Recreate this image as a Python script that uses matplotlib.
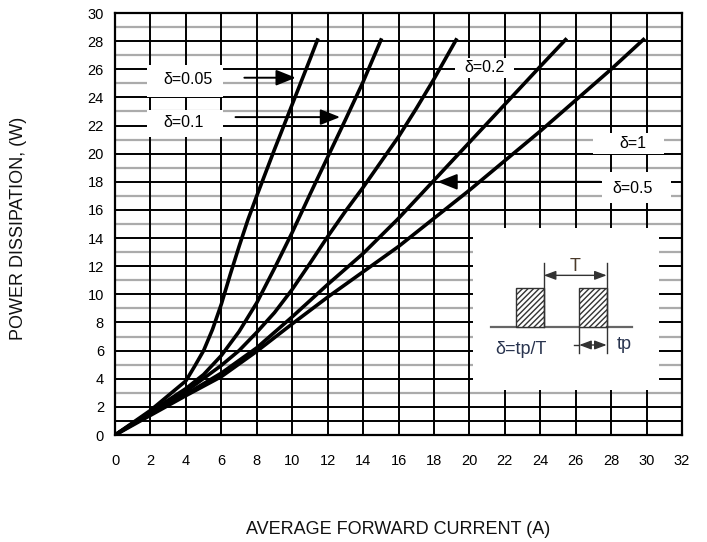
import matplotlib
matplotlib.use("Agg")
import matplotlib.pyplot as plt
from matplotlib.patches import Rectangle

plt.rcParams['font.family'] = ['Liberation Sans', 'DejaVu Sans']

# ---- data ----
x_d005 = [0, 2, 3, 4, 4.5, 5, 5.5, 6, 6.5, 7, 7.5, 8, 9, 10, 11, 11.46]
y_d005 = [0, 1.75, 2.8, 3.85, 4.9, 6.0, 7.5, 9.3, 11.4, 13.4, 15.3, 17.0, 20.3, 23.5, 26.7, 28.2]

x_d01 = [0, 2, 4, 5, 6, 7, 8, 9, 10, 11, 12, 13, 14, 15.05]
y_d01 = [0, 1.65, 3.3, 4.3, 5.65, 7.35, 9.4, 11.85, 14.4, 17.1, 19.75, 22.4, 25.1, 28.2]

x_d02 = [0, 2, 4, 6, 7, 8, 9, 10, 11, 12, 13, 14, 15, 16, 17, 18, 19.3]
y_d02 = [0, 1.6, 3.1, 4.95, 6.0, 7.3, 8.7, 10.35, 12.2, 14.1, 15.9, 17.6, 19.4, 21.2, 23.2, 25.3, 28.2]

x_d05 = [0, 2, 4, 6, 8, 10, 12, 14, 16, 18, 20, 22, 24, 25.5]
y_d05 = [0, 1.5, 2.9, 4.4, 6.2, 8.4, 10.7, 12.9, 15.4, 18.1, 20.8, 23.5, 26.2, 28.2]

x_d1 = [0, 2, 4, 6, 8, 10, 12, 14, 16, 18, 20, 22, 24, 26, 28, 29.9]
y_d1 = [0, 1.4, 2.8, 4.15, 5.95, 7.9, 9.8, 11.6, 13.4, 15.4, 17.4, 19.5, 21.6, 23.8, 26.0, 28.2]

x_ticks = list(range(0, 33, 2))
y_ticks = list(range(0, 31, 2))
black_h = [1] + list(range(2, 31, 2))
gray_h = [3, 5, 7, 9, 11, 13, 15, 17, 19, 21, 23, 25, 27, 29]

series = [(x_d005, y_d005), (x_d01, y_d01), (x_d02, y_d02), (x_d05, y_d05), (x_d1, y_d1)]

fig = plt.figure(figsize=(7.07, 5.42), dpi=100)
ax = fig.add_axes([0.1627, 0.1974, 0.8019, 0.7786])
ax.set_xlim(0, 32)
ax.set_ylim(0, 30)

# grid
for yv in gray_h:
    ax.axhline(yv, color='#ababab', lw=1.6, zorder=1)
for yv in black_h:
    ax.axhline(yv, color='black', lw=1.4, zorder=1.2)
for xv in x_ticks:
    ax.axvline(xv, color='black', lw=1.4, zorder=1.2)

# white boxes (labels + inset)
boxes = [
    (1.8, 24.05, 4.3, 2.25),   # d=0.05
    (1.8, 21.2, 4.3, 1.9),     # d=0.1
    (19.2, 25.4, 3.3, 1.4),    # d=0.2
    (27.0, 20.0, 4.0, 1.5),    # d=1
    (27.5, 16.5, 3.9, 2.2),    # d=0.5
    (20.2, 3.2, 10.5, 11.5),   # inset
]
for (bx, by, bw, bh) in boxes:
    ax.add_patch(Rectangle((bx, by), bw, bh, facecolor='white', edgecolor='none', zorder=2))

# curves
for xs, ys in series:
    ax.plot(xs, ys, color='black', lw=2.6, solid_capstyle='butt', solid_joinstyle='round', zorder=4)

# labels
tkw = dict(fontsize=11.5, ha='center', va='center', zorder=5)
ax.text(4.1, 25.3, 'δ=0.05', **tkw)
ax.text(3.85, 22.2, 'δ=0.1', **tkw)
ax.text(20.85, 26.1, 'δ=0.2', **tkw)
ax.text(29.25, 20.75, 'δ=1', **tkw)
ax.text(29.2, 17.55, 'δ=0.5', **tkw)

akw = dict(arrowstyle='-|>,head_length=1.0,head_width=0.4', color='black', lw=1.4,
           shrinkA=0, shrinkB=0, mutation_scale=12)
ax.annotate('', xy=(10.2, 25.4), xytext=(7.3, 25.4), arrowprops=akw, zorder=5)
ax.annotate('', xy=(12.7, 22.6), xytext=(6.8, 22.6), arrowprops=akw, zorder=5)
ax.annotate('', xy=(18.2, 18.0), xytext=(27.4, 18.0), arrowprops=akw, zorder=5)

# inset pulse diagram
ic = '#333333'
ax.plot([21.2, 29.2], [7.7, 7.7], color='#666666', lw=1.6, zorder=3)
for (px0, px1) in [(22.63, 24.2), (26.2, 27.75)]:
    ax.add_patch(Rectangle((px0, 7.7), px1 - px0, 2.75, facecolor='white', edgecolor=ic,
                           hatch='//////', lw=1.0, zorder=3))
ax.plot([24.2, 24.2], [7.7, 12.2], color=ic, lw=1.0, zorder=3)
ax.plot([27.75, 27.75], [7.7, 12.2], color=ic, lw=1.0, zorder=3)
ax.annotate('', xy=(24.2, 11.35), xytext=(27.75, 11.35),
            arrowprops=dict(arrowstyle='<|-|>,head_length=0.8,head_width=0.3', color=ic,
                            lw=1.0, shrinkA=0, shrinkB=0, mutation_scale=9), zorder=3)
ax.text(25.95, 11.95, 'T', fontsize=13, ha='center', va='center', color='#4a3a2a', zorder=5)
ax.plot([26.2, 26.2], [7.7, 5.8], color=ic, lw=1.0, zorder=3)
ax.plot([27.75, 27.75], [7.7, 5.8], color=ic, lw=1.0, zorder=3)
ax.annotate('', xy=(26.2, 6.4), xytext=(27.75, 6.4),
            arrowprops=dict(arrowstyle='<|-|>,head_length=0.8,head_width=0.3', color=ic,
                            lw=1.0, shrinkA=0, shrinkB=0, mutation_scale=9), zorder=3)
ax.plot([25.9, 26.2], [6.4, 6.4], color=ic, lw=1.0, zorder=3)
ax.text(28.75, 6.45, 'tp', fontsize=13, ha='center', va='center', color='#2a3550', zorder=5)
ax.text(22.9, 6.05, 'δ=tp/T', fontsize=13, ha='center', va='center', color='#2a3550', zorder=5)

# axes styling
ax.set_xticks(x_ticks)
ax.set_yticks(y_ticks)
ax.tick_params(axis='both', length=0, labelsize=10.5)
ax.tick_params(axis='x', pad=14)
ax.tick_params(axis='y', pad=8)
for s in ax.spines.values():
    s.set_linewidth(1.6)
    s.set_color('black')
    s.set_zorder(6)

ax.set_xlabel('AVERAGE FORWARD CURRENT (A)', fontsize=13, va='center', ha='center', color='#111111')
ax.set_ylabel('POWER DISSIPATION, (W)', fontsize=13, va='center', ha='center', color='#111111')
ax.xaxis.set_label_coords(0.5, -0.225)
ax.yaxis.set_label_coords(-0.171, 0.49)

fig.savefig('out.png', dpi=100)
